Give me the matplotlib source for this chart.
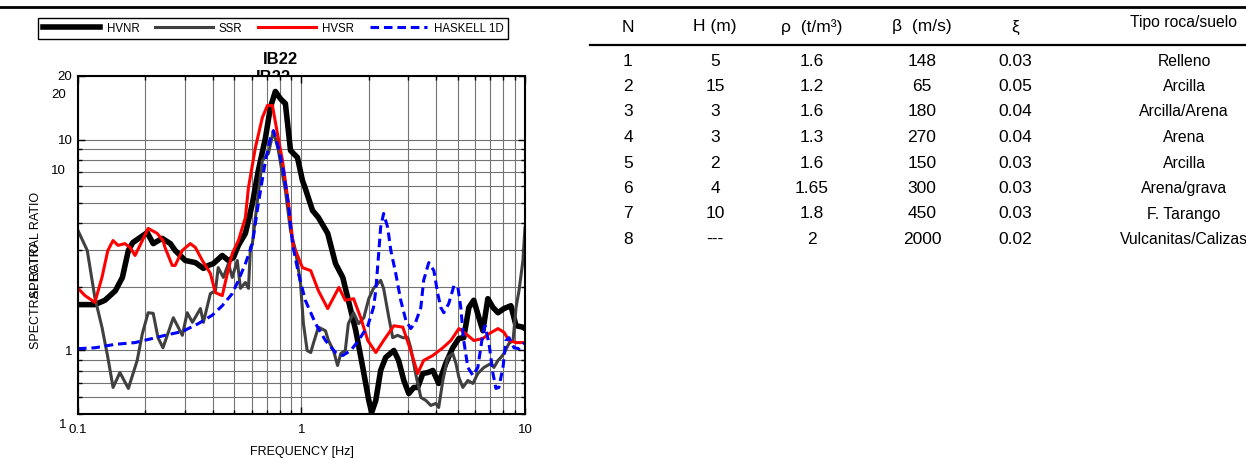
import matplotlib
matplotlib.use("Agg")
import matplotlib.pyplot as plt
from matplotlib.lines import Line2D
from matplotlib.ticker import LogLocator, NullFormatter, NullLocator

plt.rcParams['font.family'] = ['Liberation Sans', 'DejaVu Sans']

# spectral ratio curves (frequency in Hz, ratio)
hvnr_f = [0.100, 0.119, 0.132, 0.147, 0.158, 0.168, 0.176, 0.204, 0.217, 0.238,
          0.259, 0.272, 0.302, 0.335, 0.364, 0.383, 0.403, 0.442, 0.471, 0.496,
          0.522, 0.561, 0.603, 0.641, 0.690, 0.726, 0.764, 0.805, 0.847, 0.893,
          0.959, 1.01, 1.04, 1.12, 1.19, 1.31, 1.42, 1.53, 1.62, 1.75,
          1.88, 2.00, 2.06, 2.15, 2.26, 2.38, 2.59, 2.72, 2.87, 3.02,
          3.18, 3.31, 3.49, 3.67, 3.87, 4.11, 4.42, 4.75, 5.06, 5.32,
          5.61, 5.90, 6.22, 6.48, 6.82, 7.19, 7.57, 8.05, 8.65, 9.12,
          9.79, 10.0]
hvnr_v = [1.65, 1.65, 1.73, 1.92, 2.22, 2.98, 3.25, 3.62, 3.21, 3.40,
          3.21, 2.98, 2.67, 2.61, 2.45, 2.53, 2.58, 2.82, 2.67, 2.76,
          3.15, 3.59, 4.97, 7.13, 10.2, 14.2, 16.9, 15.6, 14.8, 8.87,
          8.22, 6.39, 5.86, 4.61, 4.27, 3.59, 2.58, 2.22, 1.73, 1.24,
          0.831, 0.580, 0.508, 0.580, 0.804, 0.927, 1.00, 0.897, 0.721, 0.625,
          0.668, 0.668, 0.778, 0.786, 0.804, 0.698, 0.868, 1.03, 1.14, 1.15,
          1.60, 1.73, 1.43, 1.24, 1.76, 1.60, 1.51, 1.58, 1.63, 1.31,
          1.29, 1.27]

ssr_f = [0.100, 0.110, 0.119, 0.128, 0.136, 0.1435, 0.154, 0.168, 0.184, 0.194,
         0.206, 0.217, 0.228, 0.240, 0.267, 0.293, 0.308, 0.325, 0.353, 0.364,
         0.391, 0.412, 0.424, 0.447, 0.471, 0.490, 0.516, 0.533, 0.561, 0.579,
         0.591, 0.603, 0.635, 0.668, 0.711, 0.749, 0.788, 0.847, 0.893, 0.940,
         0.990, 1.02, 1.06, 1.10, 1.13, 1.19, 1.28, 1.32, 1.39, 1.45,
         1.50, 1.57, 1.62, 1.71, 1.80, 1.90, 2.00, 2.10, 2.26, 2.33,
         2.46, 2.56, 2.69, 2.84, 2.99, 3.08, 3.24, 3.42, 3.60, 3.79,
         3.99, 4.11, 4.29, 4.51, 4.75, 4.91, 5.06, 5.27, 5.55, 5.85,
         6.15, 6.55, 7.04, 7.26, 7.57, 7.80, 8.05, 8.48, 8.84, 9.12,
         9.40, 9.79, 10.0]
ssr_v = [3.70, 2.98, 1.78, 1.29, 0.927, 0.668, 0.786, 0.661, 0.897, 1.20,
         1.51, 1.50, 1.15, 1.03, 1.43, 1.18, 1.51, 1.36, 1.58, 1.36,
         1.86, 1.92, 2.47, 2.22, 2.58, 2.22, 2.67, 1.97, 2.10, 1.97,
         3.08, 3.21, 5.14, 7.95, 8.59, 11.0, 8.87, 5.73, 3.70, 2.98,
         2.08, 1.34, 1.00, 0.978, 1.08, 1.29, 1.24, 1.115, 1.00, 0.849,
         0.968, 1.00, 1.34, 1.51, 1.34, 1.43, 1.76, 1.97, 2.15, 1.97,
         1.43, 1.15, 1.18, 1.15, 1.15, 1.03, 0.778, 0.599, 0.580, 0.549,
         0.561, 0.537, 0.721, 0.927, 0.968, 0.868, 0.745, 0.668, 0.721, 0.698,
         0.778, 0.831, 0.868, 0.831, 0.897, 0.927, 0.968, 1.08, 1.115, 1.60,
         1.92, 2.67, 3.83]

hvsr_f = [0.100, 0.1075, 0.119, 0.128, 0.136, 0.1435, 0.151, 0.162, 0.171, 0.180,
          0.194, 0.206, 0.226, 0.240, 0.245, 0.264, 0.272, 0.293, 0.318, 0.335,
          0.360, 0.391, 0.412, 0.442, 0.466, 0.490, 0.522, 0.561, 0.579, 0.622,
          0.668, 0.704, 0.741, 0.780, 0.822, 0.874, 0.921, 0.940, 1.01, 1.10,
          1.19, 1.31, 1.47, 1.57, 1.71, 1.84, 1.98, 2.15, 2.33, 2.59,
          2.84, 3.08, 3.31, 3.52, 3.87, 4.29, 4.66, 5.06, 5.44, 5.90,
          6.48, 6.90, 7.57, 8.05, 8.48, 9.12, 10.0]
hvsr_v = [1.97, 1.82, 1.69, 2.22, 2.98, 3.32, 3.15, 3.21, 3.08, 2.82,
          3.32, 3.79, 3.59, 3.32, 3.08, 2.53, 2.53, 2.98, 3.21, 3.08,
          2.67, 2.32, 1.88, 1.82, 2.32, 2.88, 3.32, 4.27, 5.92, 9.16,
          12.7, 14.5, 14.5, 10.7, 7.95, 4.97, 3.08, 2.98, 2.47, 2.39,
          1.92, 1.58, 1.99, 1.73, 1.76, 1.43, 1.115, 0.978, 1.115, 1.31,
          1.29, 1.00, 0.778, 0.897, 0.947, 1.03, 1.115, 1.27, 1.20, 1.115,
          1.14, 1.20, 1.27, 1.22, 1.115, 1.09, 1.09]

haskell_f = [0.100, 0.119, 0.147, 0.180, 0.215, 0.245, 0.293, 0.345, 0.399, 0.442,
             0.490, 0.522, 0.561, 0.603, 0.641, 0.690, 0.726, 0.749, 0.788, 0.830,
             0.874, 0.911, 0.969, 1.04, 1.156, 1.28, 1.42, 1.53, 1.66, 1.80,
             1.98, 2.10, 2.15, 2.22, 2.26, 2.33, 2.43, 2.51, 2.64, 2.78,
             2.93, 3.08, 3.24, 3.42, 3.52, 3.71, 3.91, 4.07, 4.20, 4.33,
             4.56, 4.81, 5.01, 5.16, 5.32, 5.55, 5.85, 6.15, 6.48, 6.62,
             6.90, 7.19, 7.41, 7.64, 7.97, 8.22, 8.48, 8.93, 9.40, 10.0]
haskell_v = [1.02, 1.03, 1.07, 1.09, 1.14, 1.18, 1.23, 1.34, 1.47, 1.63,
             1.86, 2.15, 2.58, 3.21, 4.97, 7.95, 10.2, 11.0, 9.16, 7.13,
             4.97, 3.21, 2.32, 1.73, 1.34, 1.115, 0.978, 0.947, 1.00, 1.115,
             1.31, 1.60, 1.93, 2.98, 3.83, 4.46, 3.83, 2.98, 2.32, 1.73,
             1.39, 1.27, 1.36, 1.60, 2.15, 2.61, 2.39, 1.86, 1.60, 1.51,
             1.67, 2.03, 1.99, 1.60, 1.115, 0.831, 0.761, 0.831, 1.20, 1.31,
             1.08, 0.778, 0.661, 0.668, 0.831, 1.115, 1.15, 1.03, 1.02, 1.09]

# soil column table
table_header = ['N', 'H (m)', 'ρ  (t/m³)', 'β  (m/s)', 'ξ', 'Tipo roca/suelo']
layer_n = ['1', '2', '3', '4', '5', '6', '7', '8']
layer_h = ['5', '15', '3', '3', '2', '4', '10', '---']
layer_rho = ['1.6', '1.2', '1.6', '1.3', '1.6', '1.65', '1.8', '2']
layer_beta = ['148', '65', '180', '270', '150', '300', '450', '2000']
layer_xi = ['0.03', '0.05', '0.04', '0.04', '0.03', '0.03', '0.03', '0.02']
layer_tipo = ['Relleno', 'Arcilla', 'Arcilla/Arena', 'Arena', 'Arcilla',
              'Arena/grava', 'F. Tarango', 'Vulcanitas/Calizas']

W, H = 1246, 458
fig = plt.figure(figsize=(W / 100, H / 100), dpi=100)


def fx(px):
    return px / W


def fy(py):
    return 1 - py / H


# ghost axes left behind from an overlaid copy of the plot
ax_g = fig.add_axes([fx(78), fy(423), fx(525) - fx(78), fy(76) - fy(423)], zorder=-1)
ax_g.patch.set_visible(False)
ax_g.set_yscale('log')
ax_g.set_ylim(1, 23.5)
ax_g.set_yticks([1, 10, 20])
ax_g.set_yticklabels(['1', '10', '20'])
ax_g.yaxis.set_minor_locator(NullLocator())
ax_g.tick_params(axis='y', length=0, pad=8.5, labelsize=9.5)
ax_g.set_xticks([])
for s in ax_g.spines.values():
    s.set_visible(False)
fig.text(fx(273), fy(77), 'IB22', ha='center', va='center', fontsize=12,
         fontweight='bold', zorder=-2)
fig.text(fx(36), fy(296), 'SPECTRAL RATIO', rotation=90, ha='center', va='center',
         fontsize=9)

ax = fig.add_axes([fx(78), fy(414), fx(525) - fx(78), fy(76) - fy(414)], zorder=0)
ax.set_facecolor('white')
ax.set_xscale('log')
ax.set_yscale('log')

ax.plot(hvnr_f, hvnr_v, color='black', lw=4, label='HVNR')
ax.plot(ssr_f, ssr_v, color='#404040', lw=2.2, label='SSR')
ax.plot(hvsr_f, hvsr_v, color='#ff0000', lw=2.2, label='HVSR')
ax.plot(haskell_f, haskell_v, color='#0000ff', lw=2.2, ls=(0, (2.8, 1.6)),
        label='HASKELL 1D')

ax.set_xlim(0.1, 10)
ax.set_ylim(0.5, 20)
ax.set_xticks([0.1, 1, 10])
ax.set_xticklabels(['0.1', '1', '10'])
ax.xaxis.set_minor_locator(LogLocator(base=10, subs=range(2, 10)))
ax.xaxis.set_minor_formatter(NullFormatter())
ax.set_yticks([1, 10, 20])
ax.set_yticklabels(['1', '10', '20'])
ax.yaxis.set_minor_locator(LogLocator(base=10, subs=range(2, 10)))
ax.yaxis.set_minor_formatter(NullFormatter())
ax.tick_params(which='both', direction='in', top=True, right=True, labelsize=9.5)
ax.tick_params(which='major', length=5, width=1)
ax.tick_params(which='minor', length=3, width=1)
ax.tick_params(axis='x', pad=7)
ax.tick_params(axis='y', pad=4)
ax.grid(True, which='both', color='0.45', lw=0.8)
ax.set_axisbelow(True)
for s in ax.spines.values():
    s.set_linewidth(1.5)

ax.set_xlabel('FREQUENCY [Hz]', fontsize=9)
ax.xaxis.set_label_coords(0.5, -0.095)
ax.set_ylabel('SPECTRAL RATIO', fontsize=9)
ax.yaxis.set_label_coords(-0.081, 0.5)

fig.text(fx(280), fy(60), 'IB22', ha='center', va='center', fontsize=12,
         fontweight='bold')

leg = fig.legend(handles=ax.get_lines(), loc='center', ncol=4, mode='expand',
                 bbox_to_anchor=(fx(38), fy(43), fx(508) - fx(38), fy(14) - fy(43)),
                 fontsize=8.3, handlelength=5.0, handletextpad=0.55,
                 columnspacing=1.0, borderaxespad=0, fancybox=False,
                 framealpha=1, edgecolor='black', borderpad=0.4)
leg.get_frame().set_linewidth(1.0)

# rules of the table
fig.add_artist(Line2D([0, 1], [fy(7), fy(7)], transform=fig.transFigure,
                      color='black', lw=2))
fig.add_artist(Line2D([fx(590), 1], [fy(45), fy(45)], transform=fig.transFigure,
                      color='black', lw=1.6))

col_x = [628, 715, 812, 922, 1015, 1184]
col_size = [12.5, 12.5, 12.5, 12.5, 12.5, 11.3]
header_y = [27, 27, 27, 27, 27, 23]
for x, y, size, txt in zip(col_x, header_y, col_size, table_header):
    fig.text(fx(x), fy(y), txt, ha='center', va='center', fontsize=size)

columns = [layer_n, layer_h, layer_rho, layer_beta, layer_xi, layer_tipo]
for x, size, col in zip(col_x, col_size, columns):
    for i, txt in enumerate(col):
        fig.text(fx(x), fy(61 + 25.5 * i), txt, ha='center', va='center',
                 fontsize=size)

fig.savefig('out.png', dpi=100)
